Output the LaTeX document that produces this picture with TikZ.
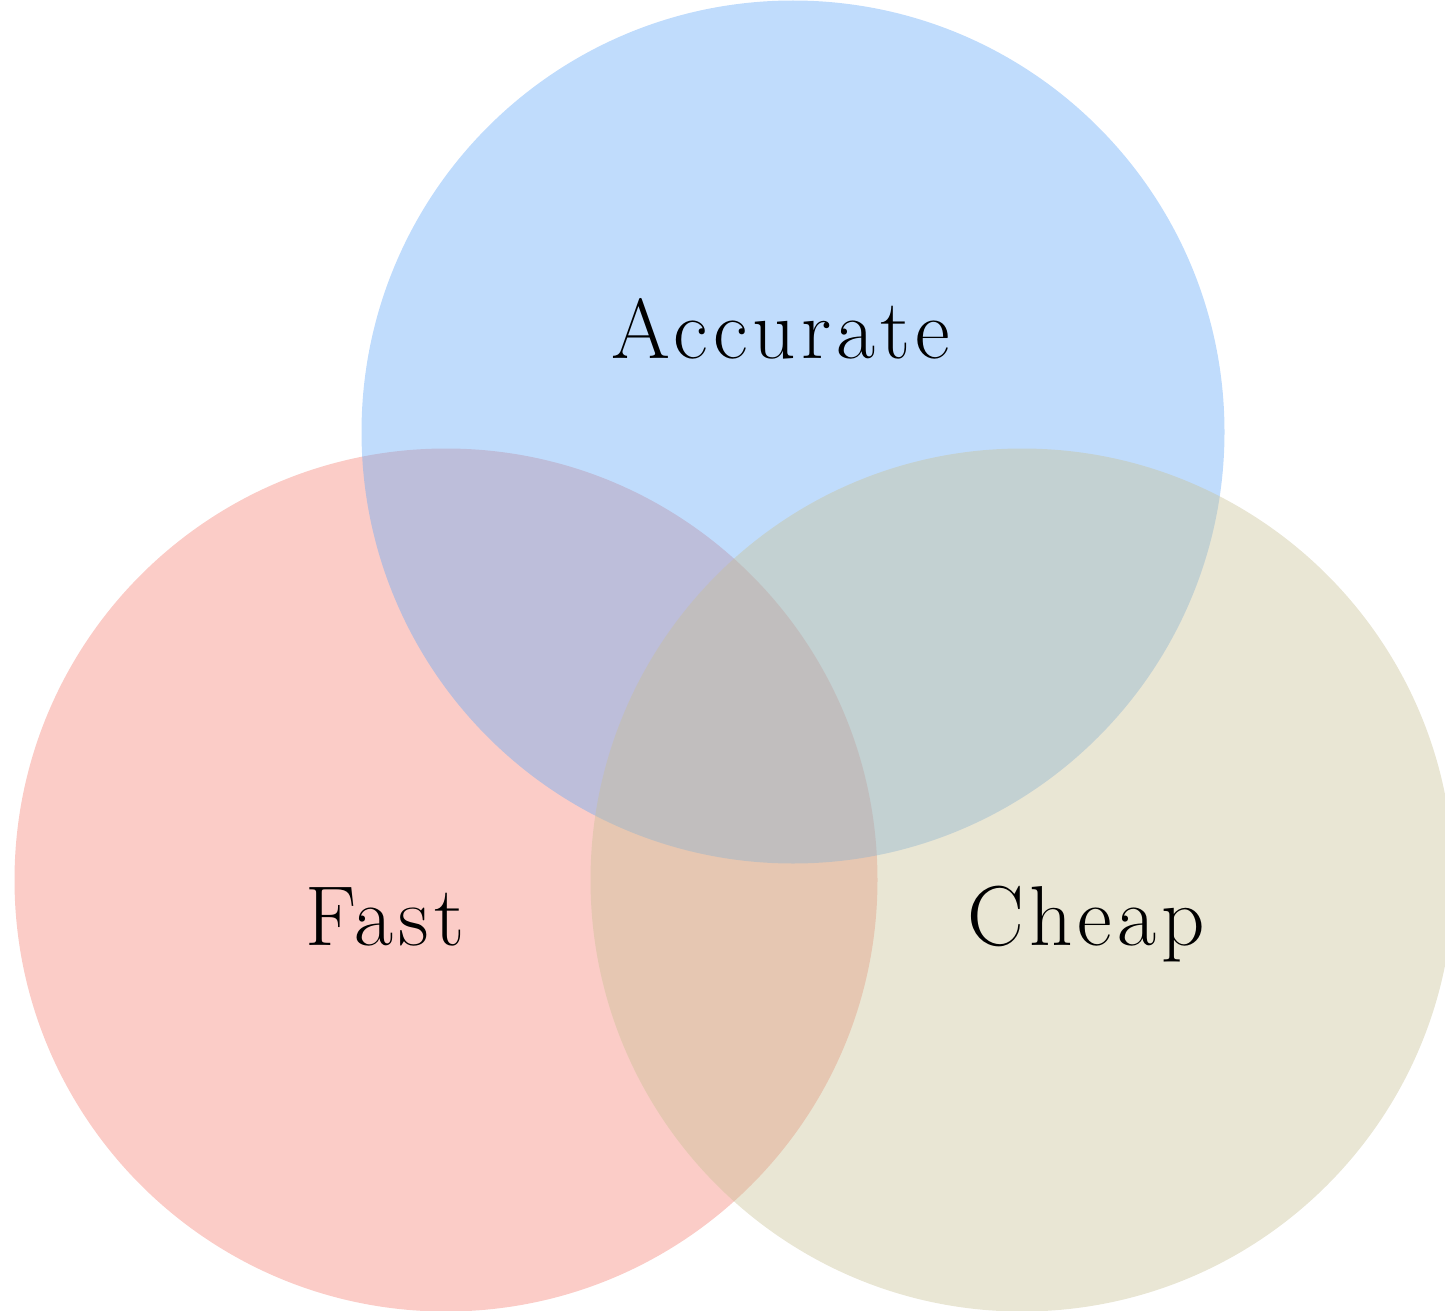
\documentclass[tikz,border=0pt]{standalone}
\usepackage{fontspec}
\setmainfont{Latin Modern Roman}[LetterSpace=6]
\definecolor{fastc}{RGB}{244,128,114}
\definecolor{accc}{RGB}{98,168,248}
\definecolor{cheapc}{RGB}{200,192,148}
\tikzset{
  setc/.style={circle, inner sep=0pt, minimum size=863pt, fill=#1, fill opacity=0.4, draw=none},
  lbl/.style={anchor=base, font=\fontsize{85}{100}\selectfont, text=black}
}
\begin{document}
\begin{tikzpicture}[x=1pt,y=-1pt]
\useasboundingbox (0,0) rectangle (1445,1311);
\clip (0,0) rectangle (1445,1311);
\node[setc=fastc] (fast) at (446,880) {};
\node[setc=accc] (acc) at (793,432) {};
\node[setc=cheapc] (cheap) at (1022,880) {};
\node[lbl] (tacc) at (781,358) {Accurate};
\node[lbl] (tfast) at (385,945) {Fast};
\node[lbl] (tcheap) at (1086,945) {Cheap};
\end{tikzpicture}
\end{document}
